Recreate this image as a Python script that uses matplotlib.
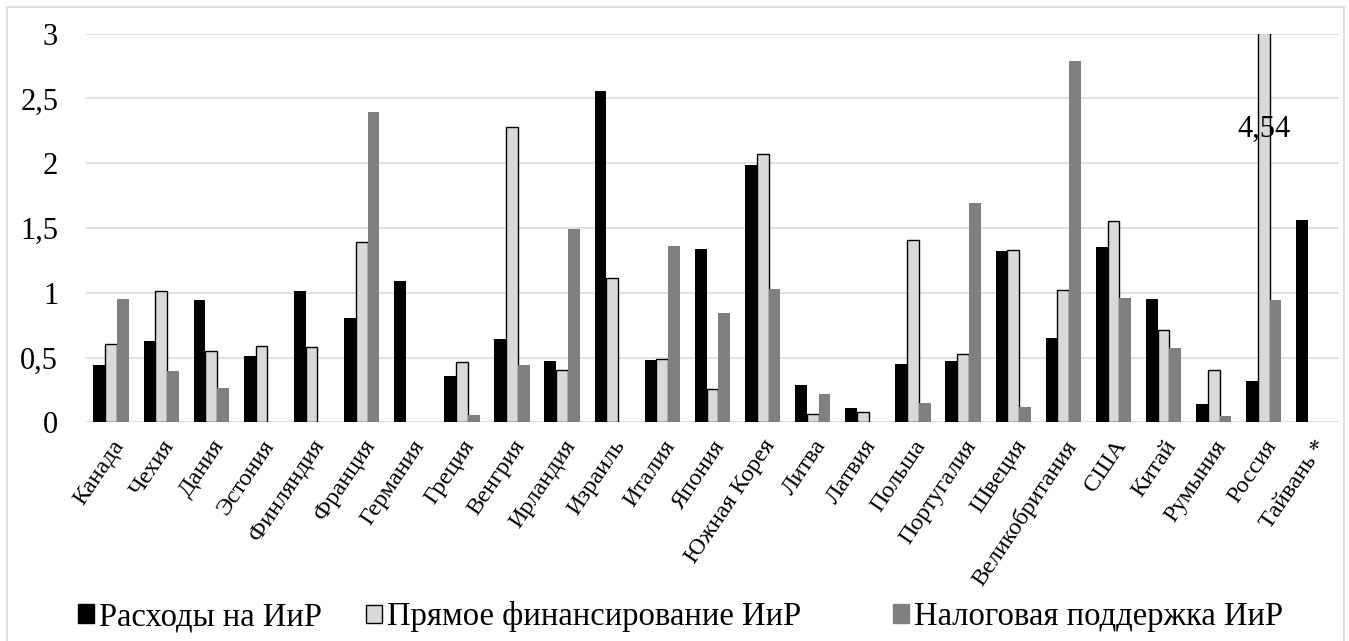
import numpy as np
import matplotlib.pyplot as plt
from matplotlib.patches import Patch, Rectangle

plt.rcParams['font.family'] = ['Liberation Serif', 'DejaVu Serif']

countries = ['Канада', 'Чехия', 'Дания', 'Эстония', 'Финляндия', 'Франция',
             'Германия', 'Греция', 'Венгрия', 'Ирландия', 'Израиль', 'Италия',
             'Япония', 'Южная Корея', 'Литва', 'Латвия', 'Польша', 'Португалия',
             'Швеция', 'Великобритания', 'США', 'Китай', 'Румыния', 'Россия',
             'Тайвань *']

nan = np.nan
# Расходы на ИиР
rnd_spend = [0.445, 0.63, 0.945, 0.51, 1.015, 0.805, 1.09, 0.355, 0.64, 0.47,
             2.555, 0.48, 1.34, 1.985, 0.285, 0.11, 0.45, 0.475, 1.325, 0.65,
             1.35, 0.955, 0.14, 0.315, 1.56]
# Прямое финансирование ИиР (nan = нет данных)
direct_fin = [0.607, 1.015, 0.553, 0.587, 0.582, 1.392, nan, 0.463, 2.283, 0.402,
              1.117, 0.49, 0.257, 2.074, 0.066, 0.077, 1.405, 0.53, 1.331, 1.022,
              1.552, 0.71, 0.406, 4.54, nan]
# Налоговая поддержка ИиР
tax_support = [0.955, 0.396, 0.265, nan, nan, 2.396, nan, 0.059, 0.445, 1.49,
               nan, 1.361, 0.842, 1.029, 0.219, nan, 0.149, 1.693, 0.12, 2.79,
               0.96, 0.574, 0.046, 0.944, nan]

series_names = ['Расходы на ИиР', 'Прямое финансирование ИиР',
                'Налоговая поддержка ИиР']

c_black = '#000000'
c_light = '#d9d9d9'
c_gray = '#808080'
c_grid = '#d9d9d9'

fig = plt.figure(figsize=(13.49, 6.41), dpi=100)
ax = fig.add_axes([86 / 1349, 1 - 422.3 / 641, (1339 - 86) / 1349, (422.3 - 33.7) / 641])

x = np.arange(len(countries))
w = 0.235
ax.bar(x - w, rnd_spend, w, color=c_black, zorder=3)
ax.bar(x, direct_fin, w, color=c_light, edgecolor='black', linewidth=1.0, zorder=3)
ax.bar(x + w, tax_support, w, color=c_gray, zorder=3)

# подпись для столбца, выходящего за пределы шкалы
i_ru = countries.index('Россия')
ax.text(x[i_ru], 2.26, f'{direct_fin[i_ru]:.2f}'.replace('.', ','),
        ha='center', va='center', fontsize=22, zorder=4)

ax.set_ylim(0, 3)
ax.set_xlim(-0.5, len(countries) - 0.5)
yt = np.arange(0, 3.01, 0.5)
ax.set_yticks(yt)
ax.set_yticklabels([f'{v:g}'.replace('.', ',') for v in yt])
ax.tick_params(axis='y', length=0, labelsize=22, pad=20)
ax.yaxis.grid(True, color=c_grid, linewidth=1.1, zorder=0)
ax.set_axisbelow(True)
for s in ax.spines.values():
    s.set_visible(False)

ax.set_xticks(x)
ax.set_xticklabels(countries, rotation=56, ha='right', va='top',
                   rotation_mode='anchor', fontsize=17.5)
ax.tick_params(axis='x', length=0, pad=10)

# рамка вокруг диаграммы
fig.patches.append(Rectangle((7 / 1349, -0.05), (1344 - 7) / 1349, 1.05 - 7 / 641,
                             transform=fig.transFigure, fill=False,
                             edgecolor=c_grid, linewidth=1.2))

# легенда: три элемента в одну строку
handles = [Patch(facecolor=c_black, edgecolor=c_black),
           Patch(facecolor=c_light, edgecolor='black', linewidth=1.0),
           Patch(facecolor=c_gray, edgecolor=c_gray)]
leg_x = [78, 366, 893]
for h, name, lx in zip(handles, series_names, leg_x):
    fig.legend([h], [name], loc='center left',
               bbox_to_anchor=(lx / 1349, 1 - 617 / 641),
               frameon=False, fontsize=23.5, borderpad=0, borderaxespad=0,
               handlelength=0.5, handleheight=0.5, handletextpad=0.15)

fig.savefig('out.png', dpi=100)
